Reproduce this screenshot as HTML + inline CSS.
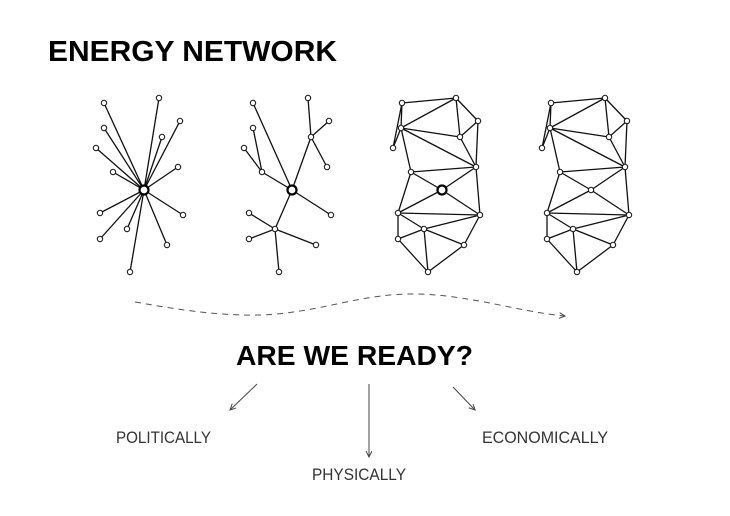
<!DOCTYPE html>
<html><head><meta charset="utf-8"><style>html,body{margin:0;padding:0;background:#fff}svg{display:block}</style></head>
<body>
<svg width="730" height="516" viewBox="0 0 730 516" xmlns="http://www.w3.org/2000/svg">
<defs>
<g id="mesh">
<g stroke="#111" stroke-width="1.3" fill="none">
<path d="M402,103L456,98M402,103L401,128M402,103L393,148M401,128L393,148M456,98L401,128M456,98L478,121M456,98L460,137M478,121L460,137M478,121L476,167M401,128L460,137M401,128L476,167M460,137L476,167M401,128L411,172M411,172L476,167M411,172L442,190M442,190L476,167M411,172L398,213M442,190L398,213M442,190L480,215M476,167L480,215M398,213L480,215M398,213L424,229M424,229L480,215M398,213L398,239M398,239L424,229M398,239L428,272M424,229L428,272M424,229L464,245M464,245L480,215M464,245L428,272"/>
</g>
<g fill="#fff" stroke="#111" stroke-width="1">
<circle cx="402" cy="103" r="2.7"/><circle cx="456" cy="98" r="2.7"/><circle cx="478" cy="121" r="2.7"/><circle cx="401" cy="128" r="2.7"/><circle cx="460" cy="137" r="2.7"/><circle cx="393" cy="148" r="2.7"/><circle cx="476" cy="167" r="2.7"/><circle cx="411" cy="172" r="2.7"/><circle cx="398" cy="213" r="2.7"/><circle cx="480" cy="215" r="2.7"/><circle cx="424" cy="229" r="2.7"/><circle cx="398" cy="239" r="2.7"/><circle cx="464" cy="245" r="2.7"/><circle cx="428" cy="272" r="2.7"/>
</g>
</g>
<marker id="ah" markerWidth="8" markerHeight="8" refX="6" refY="3" orient="auto" markerUnits="userSpaceOnUse"><path d="M0,0L6,3L0,6" fill="none" stroke="#444" stroke-width="1"/></marker>
</defs>

<text x="48" y="61" font-family="Liberation Sans, sans-serif" font-weight="bold" font-size="29" textLength="289" lengthAdjust="spacingAndGlyphs" fill="#000">ENERGY NETWORK</text>

<!-- Network 1 -->
<g stroke="#111" stroke-width="1.3">
<path d="M144,190L104,103M144,190L159,98M144,190L180,121M144,190L104,128M144,190L162,137M144,190L96,148M144,190L178,167M144,190L113,172M144,190L100,213M144,190L183,215M144,190L127,229M144,190L100,239M144,190L167,245M144,190L130,272"/>
</g>
<g fill="#fff" stroke="#111" stroke-width="1">
<circle cx="104" cy="103" r="2.7"/><circle cx="159" cy="98" r="2.7"/><circle cx="180" cy="121" r="2.7"/><circle cx="104" cy="128" r="2.7"/><circle cx="162" cy="137" r="2.7"/><circle cx="96" cy="148" r="2.7"/><circle cx="178" cy="167" r="2.7"/><circle cx="113" cy="172" r="2.7"/><circle cx="100" cy="213" r="2.7"/><circle cx="183" cy="215" r="2.7"/><circle cx="127" cy="229" r="2.7"/><circle cx="100" cy="239" r="2.7"/><circle cx="167" cy="245" r="2.7"/><circle cx="130" cy="272" r="2.7"/>
</g>
<circle cx="144" cy="190" r="4.5" fill="#fff" stroke="#000" stroke-width="2.2"/>

<!-- Network 2 -->
<g stroke="#111" stroke-width="1.3">
<path d="M292,190L253,103M308,98L311,137M311,137L329,121M311,137L327,167M311,137L292,190M253,128L262,172M244,148L262,172M262,172L292,190M292,190L331,215M292,190L275,229M275,229L249,213M275,229L249,239M275,229L316,245M275,229L279,272"/>
</g>
<g fill="#fff" stroke="#111" stroke-width="1">
<circle cx="253" cy="103" r="2.7"/><circle cx="308" cy="98" r="2.7"/><circle cx="311" cy="137" r="2.7"/><circle cx="329" cy="121" r="2.7"/><circle cx="327" cy="167" r="2.7"/><circle cx="253" cy="128" r="2.7"/><circle cx="244" cy="148" r="2.7"/><circle cx="262" cy="172" r="2.7"/><circle cx="331" cy="215" r="2.7"/><circle cx="275" cy="229" r="2.7"/><circle cx="249" cy="213" r="2.7"/><circle cx="249" cy="239" r="2.7"/><circle cx="316" cy="245" r="2.7"/><circle cx="279" cy="272" r="2.7"/>
</g>
<circle cx="292" cy="190" r="4.5" fill="#fff" stroke="#000" stroke-width="2.2"/>

<!-- Network 3 & 4 -->
<use href="#mesh"/>
<circle cx="442" cy="190" r="4.5" fill="#fff" stroke="#000" stroke-width="2.2"/>
<use href="#mesh" transform="translate(149,0)"/>
<circle cx="591" cy="190" r="2.7" fill="#fff" stroke="#111" stroke-width="1"/>

<!-- dashed wave -->
<path d="M135,302 C180,310 220,316 260,315 C320,313 360,293 417,294 C470,295 520,312 565,316" fill="none" stroke="#555" stroke-width="1" stroke-dasharray="6,5" marker-end="url(#ah)"/>

<text x="236" y="365" font-family="Liberation Sans, sans-serif" font-weight="bold" font-size="28" textLength="237" lengthAdjust="spacingAndGlyphs" fill="#000">ARE WE READY?</text>

<g stroke="#444" stroke-width="1" fill="none">
<line x1="257" y1="384" x2="230" y2="410" marker-end="url(#ah)"/>
<line x1="369" y1="384" x2="369" y2="457" marker-end="url(#ah)"/>
<line x1="453" y1="387" x2="475" y2="410" marker-end="url(#ah)"/>
</g>

<g font-family="Liberation Sans, sans-serif" font-size="16.5" fill="#333" lengthAdjust="spacingAndGlyphs">
<text x="116" y="443" textLength="95" lengthAdjust="spacingAndGlyphs">POLITICALLY</text>
<text x="312" y="480" textLength="94" lengthAdjust="spacingAndGlyphs">PHYSICALLY</text>
<text x="482" y="443" textLength="126" lengthAdjust="spacingAndGlyphs">ECONOMICALLY</text>
</g>
</svg>
</body></html>
